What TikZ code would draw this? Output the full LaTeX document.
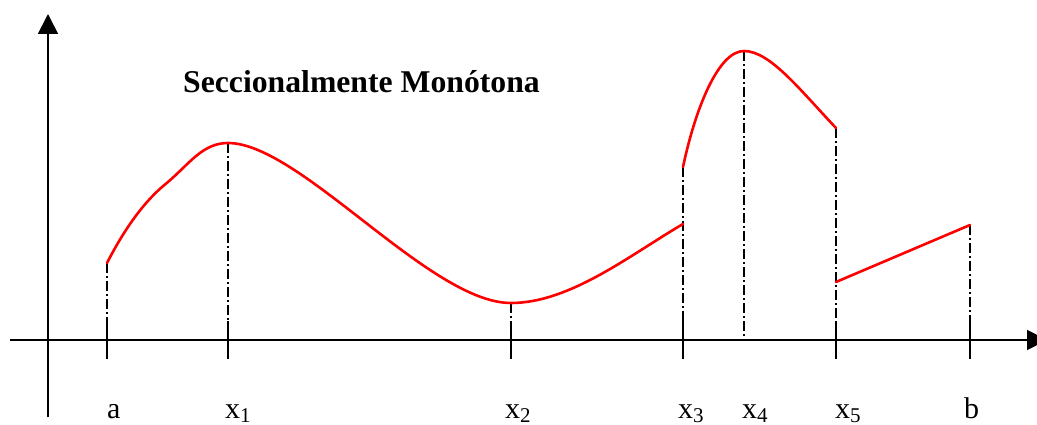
\documentclass[tikz,border=0pt]{standalone}
\usepackage{fontspec}
\setmainfont{Liberation Serif}
\usetikzlibrary{arrows.meta}
\tikzset{
  axis/.style={line width=1.8pt,-{Triangle[length=20pt,width=20pt]}},
  curve/.style={red,line width=2.6pt,line join=round,line cap=round},
  guide/.style={line width=1.8pt,dash pattern=on 10pt off 3pt on 2pt off 3pt},
  tick/.style={line width=1.8pt},
  lbl/.style={anchor=base west,inner sep=0pt,font=\fontsize{30}{32}\selectfont},
  ttl/.style={anchor=base west,inner sep=0pt,font=\fontsize{31.7}{36}\selectfont\bfseries}
}
\newcommand{\xs}[1]{x\raisebox{-0.15em}{\fontsize{21}{21}\selectfont #1}}
\begin{document}
\begin{tikzpicture}[x=1pt,y=-1pt]
\useasboundingbox (0,0) rectangle (1037,425);
% axes
\coordinate (xs) at (10,340);
\coordinate (xe) at (1047,340);
\coordinate (ys) at (48,417);
\coordinate (ye) at (48,14);
\draw[axis] (xs) -- (xe);
\draw[axis] (ys) -- (ye);
% curve key points
\coordinate (pa) at (107,263);
\coordinate (ps) at (168,182);
\coordinate (p1) at (228,143);
\coordinate (p2) at (511,303);
\coordinate (p3a) at (683,224);
\coordinate (p3b) at (683,167);
\coordinate (p4) at (744,51);
\coordinate (p5a) at (836,128);
\coordinate (p5b) at (836,282);
\coordinate (pb) at (970,225);
% axis foot points
\foreach \n/\x in {a/107,1/228,2/511,3/683,4/744,5/836,b/970}{
  \coordinate (f\n) at (\x,340);
  \coordinate (t\n) at (\x,321);
  \coordinate (u\n) at (\x,359);
}
% guides
\draw[guide] (pa) -- (fa);
\draw[guide] (p1) -- (f1);
\draw[guide] (p2) -- (f2);
\draw[guide] (p3b) -- (f3);
\draw[guide] (p4) -- (f4);
\draw[guide] (p5a) -- (f5);
\draw[guide] (pb) -- (fb);
% ticks
\foreach \n in {a,1,2,3,5,b}{ \draw[tick] (t\n) -- (u\n); }
% curves
\draw[curve] (pa) .. controls (125,228) and (145,200) .. (ps)
  .. controls (190,163) and (203,143) .. (p1)
  .. controls (300,143) and (430,303) .. (p2)
  .. controls (570,303) and (630,255) .. (p3a);
\draw[curve] (p3b) .. controls (695,110) and (718,51) .. (p4)
  .. controls (770,51) and (800,90) .. (p5a);
\draw[curve] (p5b) -- (pb);
% labels
\node[ttl] (title) at (183,93) {Seccionalmente Monótona};
\node[lbl] (la) at (107,418) {a};
\node[lbl] (l1) at (225,418) {\xs{1}};
\node[lbl] (l2) at (505,418) {\xs{2}};
\node[lbl] (l3) at (678,418) {\xs{3}};
\node[lbl] (l4) at (742,418) {\xs{4}};
\node[lbl] (l5) at (835,418) {\xs{5}};
\node[lbl] (lb) at (964,418) {b};
\end{tikzpicture}
\end{document}
